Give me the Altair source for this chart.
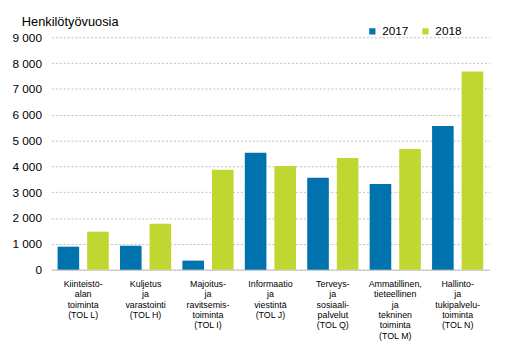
import altair as alt
import pandas as pd

categories = [
    "Kiinteistö-|alan|toiminta|(TOL L)",
    "Kuljetus|ja|varastointi|(TOL H)",
    "Majoitus-|ja|ravitsemis-|toiminta|(TOL I)",
    "Informaatio|ja|viestintä|(TOL J)",
    "Terveys-|ja|sosiaali-|palvelut|(TOL Q)",
    "Ammatillinen,|tieteellinen|ja|tekninen|toiminta|(TOL M)",
    "Hallinto-|ja|tukipalvelu-|toiminta|(TOL N)",
]
values_2017 = [890, 930, 350, 4530, 3560, 3320, 5560]
values_2018 = [1470, 1780, 3870, 4010, 4320, 4670, 7670]
years = ["2017", "2018"]
y_ticks = [0, 1000, 2000, 3000, 4000, 5000, 6000, 7000, 8000, 9000]

rows = []
for c, v in zip(categories, values_2017):
    rows.append({"cat": c, "year": "2017", "value": v})
for c, v in zip(categories, values_2018):
    rows.append({"cat": c, "year": "2018", "value": v})
df = pd.DataFrame(rows)

FONT = "Liberation Sans"

chart = alt.Chart(df).mark_bar().encode(
    x=alt.X("cat:N", sort=categories,
            scale=alt.Scale(paddingInner=0.18, paddingOuter=0.1),
            axis=alt.Axis(title=None, labelAngle=0, ticks=False,
                          labelExpr="split(datum.label, '|')",
                          labelFontSize=9, labelLineHeight=10.5, labelColor="#000000",
                          labelPadding=10, labelLimit=0, labelOverlap=False,
                          labelBound=False, labelBaseline="top",
                          domainColor="#BFBFBF", domainWidth=1, grid=False)),
    xOffset=alt.XOffset("year:N", sort=years, scale=alt.Scale(paddingInner=0.27)),
    y=alt.Y("value:Q", scale=alt.Scale(domain=[0, 9000], nice=False),
            axis=alt.Axis(title=None, values=y_ticks, domain=False, ticks=False,
                          labelExpr="replace(format(datum.value, ','), ',', ' ')",
                          labelFontSize=12, labelColor="#000000", labelPadding=10,
                          gridColor="#BFBFBF", gridDash=[2, 2], gridWidth=1)),
    color=alt.Color("year:N", sort=years,
                    scale=alt.Scale(domain=years, range=["#0072AE", "#BFD730"]),
                    legend=alt.Legend(title=None, orient="none", legendX=320, legendY=-12,
                                      direction="horizontal", symbolType="square",
                                      symbolSize=40, symbolStrokeWidth=0,
                                      labelFontSize=12, labelColor="#000000",
                                      labelOffset=4, columnPadding=11, padding=0)),
).properties(
    width=445, height=236,
    title=alt.TitleParams("Henkilötyövuosia", anchor="start", frame="group", dx=-30,
                          offset=-4, fontSize=13, fontWeight="normal",
                          color="#000000", font=FONT),
    autosize=alt.AutoSizeParams(type="none"),
    padding={"left": 44, "top": 27, "right": 32, "bottom": 88},
).configure(font=FONT).configure_view(stroke=None)

chart.save("out.html", embed_options={"renderer": "svg", "actions": False})
